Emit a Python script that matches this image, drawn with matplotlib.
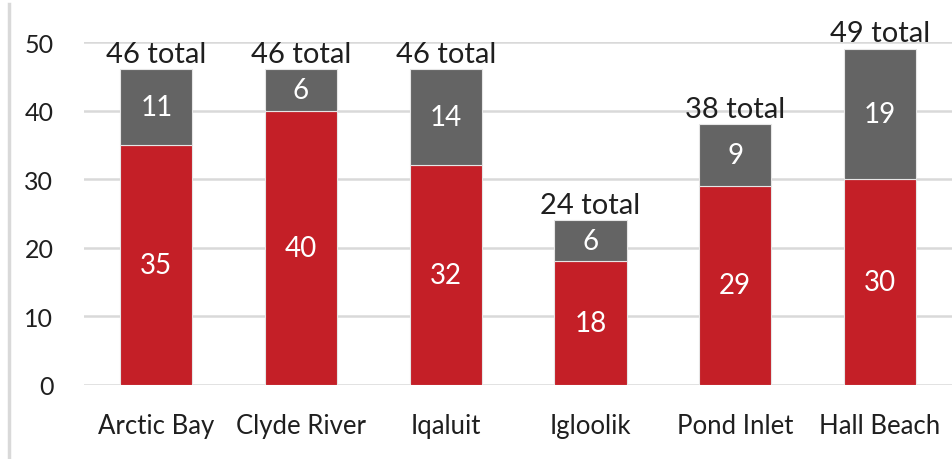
import matplotlib
matplotlib.use("Agg")
import matplotlib.pyplot as plt
from matplotlib.lines import Line2D
import numpy as np

categories = ["Arctic Bay", "Clyde River", "Iqaluit", "Igloolik", "Pond Inlet", "Hall Beach"]
red_values = [35, 40, 32, 18, 29, 30]
gray_values = [11, 6, 14, 6, 9, 19]
totals = [46, 46, 46, 24, 38, 49]
yticks = [0, 10, 20, 30, 40, 50]

RED = "#C41F27"
GRAY = "#646464"
GRID = "#D9D9D9"
TEXT = "#1f1f1f"

plt.rcParams['font.family'] = ['Lato', 'DejaVu Sans']

fig = plt.figure(figsize=(9.52, 4.6), dpi=100)
ax = fig.add_axes([0.0882, 0.161, 0.912, 0.7455])

x = np.arange(len(categories))
w = 0.5
ax.bar(x, red_values, width=w, color=RED, edgecolor="#E6E6E6", linewidth=0.8, zorder=3)
ax.bar(x, gray_values, width=w, bottom=red_values, color=GRAY, edgecolor="#E6E6E6", linewidth=0.8, zorder=3)

for i in range(len(categories)):
    ax.text(x[i], red_values[i] / 2, str(red_values[i]), ha="center", va="center",
            color="white", fontsize=20, zorder=4)
    ax.text(x[i], red_values[i] + gray_values[i] / 2, str(gray_values[i]), ha="center",
            va="center", color="white", fontsize=20, zorder=4)
    ax.annotate(f"{totals[i]} total", (x[i], totals[i]), xytext=(0, 2),
                textcoords="offset points", ha="center", va="bottom",
                fontsize=21, color=TEXT, annotation_clip=False, zorder=4)

ax.set_xlim(-0.5, len(categories) - 0.5)
ax.set_ylim(0, 50)
ax.set_yticks(yticks)
ax.set_xticks(x)
ax.set_xticklabels(categories)
ax.grid(axis="y", color=GRID, linewidth=1.8, zorder=0)
ax.set_axisbelow(True)
for s in ax.spines.values():
    s.set_visible(False)
ax.tick_params(axis="both", length=0, colors=TEXT)
ax.tick_params(axis="x", pad=20, labelsize=18.5)
ax.tick_params(axis="y", pad=22, labelsize=18)

fig.add_artist(Line2D([0.0095, 0.0095], [0.0, 0.99], transform=fig.transFigure,
                      color=GRID, linewidth=2.5))

fig.savefig("out.png", dpi=100)
